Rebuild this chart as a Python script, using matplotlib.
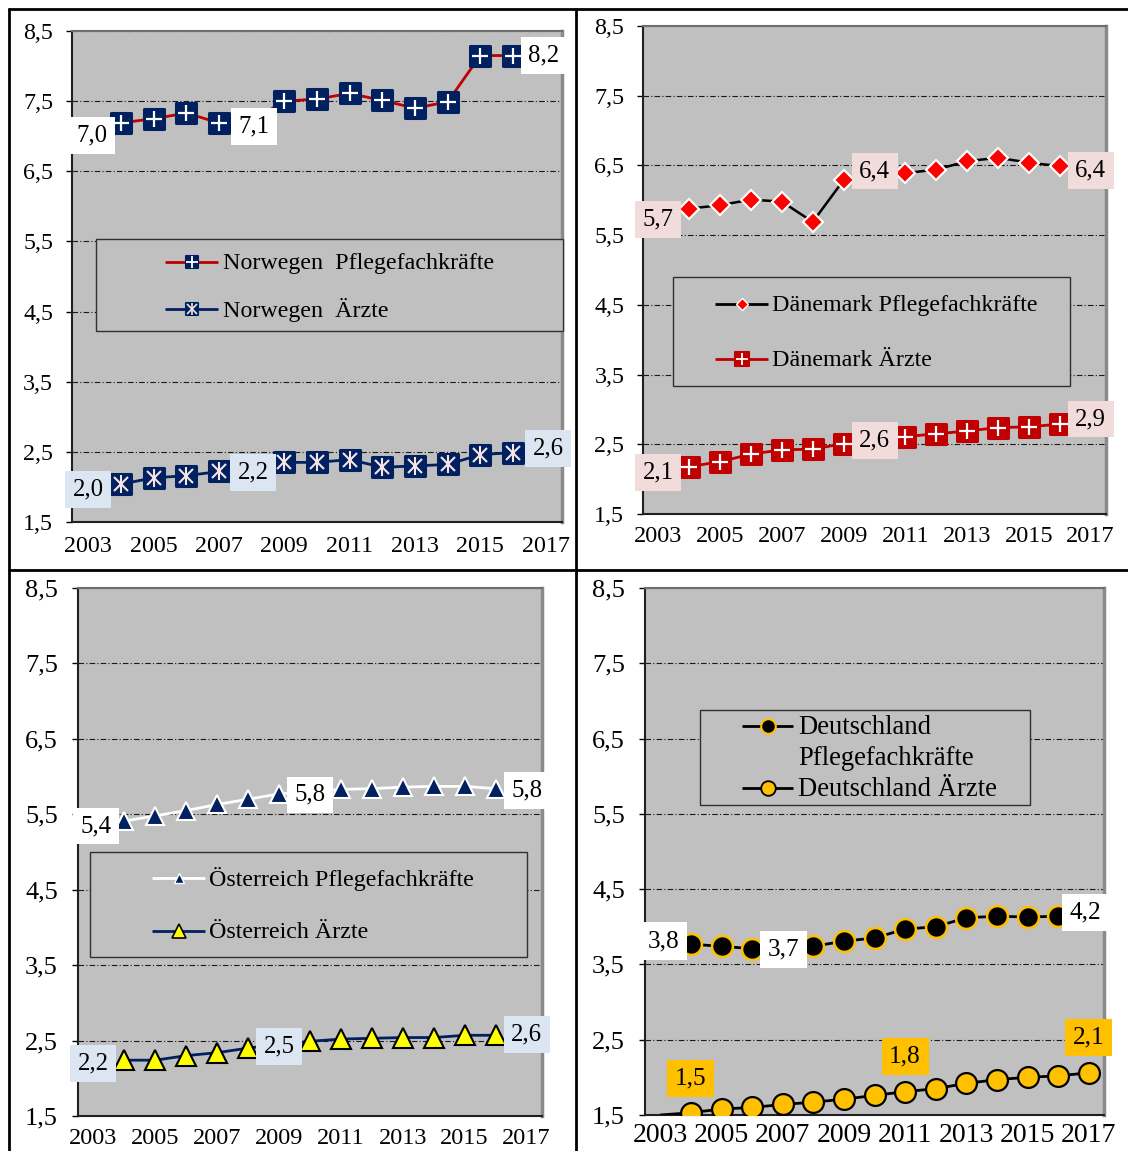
import matplotlib
matplotlib.use('Agg')
import matplotlib.pyplot as plt
from matplotlib.markers import MarkerStyle
from matplotlib.patches import Rectangle

plt.rcParams['font.family'] = ['Liberation Serif', 'DejaVu Serif']

# ---------------- data ----------------
years = list(range(2003, 2018))
tick_years = years[::2]
yticks = [1.5, 2.5, 3.5, 4.5, 5.5, 6.5, 7.5, 8.5]

series_years = list(range(2004, 2017))

no_pflege = [7.19, 7.25, 7.33, 7.19, 7.22, 7.50, 7.53, 7.61, 7.51, 7.40, 7.49, 8.15, 8.15]
no_aerzte = [2.04, 2.13, 2.16, 2.22, 2.30, 2.35, 2.35, 2.39, 2.28, 2.30, 2.32, 2.46, 2.49]
dk_pflege = [5.88, 5.93, 6.01, 5.98, 5.69, 6.29, 6.38, 6.39, 6.44, 6.56, 6.61, 6.54, 6.49]
dk_aerzte = [2.18, 2.25, 2.36, 2.42, 2.43, 2.51, 2.57, 2.61, 2.65, 2.69, 2.74, 2.75, 2.79]
at_pflege = [5.41, 5.48, 5.55, 5.63, 5.70, 5.77, 5.80, 5.83, 5.84, 5.86, 5.87, 5.87, 5.84]
at_aerzte = [2.24, 2.24, 2.30, 2.34, 2.40, 2.45, 2.49, 2.52, 2.53, 2.54, 2.54, 2.57, 2.57]
de_pflege = [3.77, 3.74, 3.71, 3.72, 3.74, 3.81, 3.85, 3.97, 4.00, 4.12, 4.14, 4.13, 4.14]
de_aerzte_years = list(range(2003, 2018))
de_aerzte = [1.50, 1.53, 1.58, 1.60, 1.64, 1.67, 1.71, 1.76, 1.81, 1.85, 1.92, 1.97, 2.00, 2.02, 2.06]

# data labels: (year, text)
no_pflege_lbl = [(2004, "7,0"), (2007, "7,1"), (2016, "8,2")]
no_aerzte_lbl = [(2004, "2,0"), (2007, "2,2"), (2016, "2,6")]
dk_pflege_lbl = [(2004, "5,7"), (2009, "6,4"), (2016, "6,4")]
dk_aerzte_lbl = [(2004, "2,1"), (2009, "2,6"), (2016, "2,9")]
at_pflege_lbl = [(2004, "5,4"), (2009, "5,8"), (2016, "5,8")]
at_aerzte_lbl = [(2004, "2,2"), (2008, "2,5"), (2016, "2,6")]
de_pflege_lbl = [(2004, "3,8"), (2006, "3,7"), (2016, "4,2")]
de_aerzte_lbl = [(2004, "1,5"), (2011, "1,8"), (2017, "2,1")]

leg_no = ["Norwegen  Pflegefachkräfte", "Norwegen  Ärzte"]
leg_dk = ["Dänemark Pflegefachkräfte", "Dänemark Ärzte"]
leg_at = ["Österreich Pflegefachkräfte", "Österreich Ärzte"]
leg_de = ["Deutschland\nPflegefachkräfte", "Deutschland Ärzte"]

# ---------------- styles ----------------
NAVY = '#002060'
RED = '#c00000'
BRIGHT_RED = '#ff0000'
ORANGE = '#ffc000'
YELLOW = '#ffff00'
GREY = '#c0c0c0'
LBLUE = '#dce6f2'
LPINK = '#f2dcdb'

W, H = 1128, 1151
fig = plt.figure(figsize=(W / 100, H / 100), dpi=100)


def xi(yrs):
    return [years.index(y) for y in yrs]


def add_panel(x0, y0, x1, y1, yfs, xfs, ypad=9, xpad=9):
    ax = fig.add_axes([x0 / W, 1 - y1 / H, (x1 - x0) / W, (y1 - y0) / H])
    ax.set_facecolor(GREY)
    ax.set_xlim(-0.5, 14.5)
    ax.set_ylim(1.5, 8.5)
    ax.set_yticks(yticks)
    ax.set_yticklabels([f"{v:.1f}".replace('.', ',') for v in yticks], fontsize=yfs)
    ax.set_xticks(xi(tick_years))
    ax.set_xticklabels([str(y) for y in tick_years], fontsize=xfs)
    ax.tick_params(axis='y', direction='out', length=4.5, width=1, pad=ypad)
    ax.tick_params(axis='x', length=0, pad=xpad)
    ax.yaxis.grid(True, linestyle=(0, (5, 2, 1, 2)), color='#1a1a1a', lw=0.8)
    ax.set_axisbelow(True)
    ax.spines['left'].set_color('#202020')
    ax.spines['left'].set_linewidth(1.5)
    ax.spines['bottom'].set_color('#202020')
    ax.spines['bottom'].set_linewidth(1.5)
    ax.spines['top'].set_color('#6e6e6e')
    ax.spines['top'].set_linewidth(1.5)
    ax.spines['right'].set_color('#8a8a8a')
    ax.spines['right'].set_linewidth(2.5)
    return ax


def draw_series(ax, yrs, vals, lc, lw, marker, ms, mfc, mec, mew, inner=(), skip_first=False):
    xs = xi(yrs)
    ax.plot(xs, vals, color=lc, lw=lw, zorder=3, solid_capstyle='butt')
    mx = xs[1:] if skip_first else xs
    mv = vals[1:] if skip_first else vals
    ax.plot(mx, mv, ls='none', marker=marker, ms=ms, mfc=mfc, mec=mec, mew=mew, zorder=4)
    for m, ims, icol, imew in inner:
        ax.plot(mx, mv, ls='none', marker=m, ms=ims, mec=icol, mew=imew, zorder=4.5)


def add_labels(ax, yrs, vals, lbls, offsets, fc, fs):
    for (yr, txt), (dx, dy) in zip(lbls, offsets):
        v = vals[yrs.index(yr)]
        ax.annotate(txt, (years.index(yr), v), xytext=(dx, -dy), textcoords='offset pixels',
                    ha='center', va='center', fontsize=fs, zorder=6, annotation_clip=False,
                    bbox=dict(boxstyle='square,pad=0.3', fc=fc, ec='none'))


sq_round = MarkerStyle('s', joinstyle='round')
LFS = 17.8  # data label font size

# ---- Norwegen ----
ax1 = add_panel(72, 31, 562, 522, 17.3, 17.3, xpad=10)
draw_series(ax1, series_years, no_pflege, RED, 2, sq_round, 14, NAVY, NAVY, 2.2,
            inner=[('+', 12, 'white', 1.6)])
draw_series(ax1, series_years, no_aerzte, NAVY, 2, sq_round, 14, NAVY, NAVY, 2.2,
            inner=[('x', 10, '#f7e4e4', 1.5), ('|', 13, '#f7e4e4', 1.5)])
add_labels(ax1, series_years, no_pflege, no_pflege_lbl, [(-29, 13), (35, 4), (31, 0)], 'white', LFS)
add_labels(ax1, series_years, no_aerzte, no_aerzte_lbl, [(-33, 5), (34, 1), (35, -4)], LBLUE, LFS)

# ---- Dänemark ----
ax2 = add_panel(643, 26, 1106, 514, 17.3, 17.5, xpad=9)
draw_series(ax2, series_years, dk_pflege, 'black', 1.8, 'D', 10.5, BRIGHT_RED, 'white', 1.5)
draw_series(ax2, series_years, dk_aerzte, RED, 2, sq_round, 14, RED, RED, 2.2,
            inner=[('+', 12, 'white', 1.6)])
add_labels(ax2, series_years, dk_pflege, dk_pflege_lbl, [(-31, 11), (31, -9), (31, 4)], LPINK, LFS)
add_labels(ax2, series_years, dk_aerzte, dk_aerzte_lbl, [(-31, 6), (31, -3), (31, -5)], LPINK, LFS)

# ---- Österreich ----
ax3 = add_panel(78, 588, 542, 1116, 19, 17.5, ypad=10, xpad=9)
draw_series(ax3, series_years, at_pflege, 'white', 2, '^', 13, NAVY, 'white', 1.5)
draw_series(ax3, series_years, at_aerzte, NAVY, 2, '^', 14, YELLOW, 'black', 1.5)
add_labels(ax3, series_years, at_pflege, at_pflege_lbl, [(-28, 5), (31, 1), (31, 2)], 'white', LFS)
add_labels(ax3, series_years, at_aerzte, at_aerzte_lbl, [(-31, 3), (31, -2), (31, -1)], LBLUE, LFS)

# ---- Deutschland ----
ax4 = add_panel(645, 588, 1104, 1115, 19, 20, ypad=10, xpad=6)
draw_series(ax4, series_years, de_pflege, 'black', 2, 'o', 15, 'black', ORANGE, 1.8)
draw_series(ax4, de_aerzte_years, de_aerzte, 'black', 2, 'o', 15, ORANGE, 'black', 1.6, skip_first=True)
add_labels(ax4, series_years, de_pflege, de_pflege_lbl, [(-27, -3), (31, 1), (27, -4)], 'white', 18.3)
add_labels(ax4, de_aerzte_years, de_aerzte, de_aerzte_lbl, [(0, -34), (0, -35), (0, -35)], ORANGE, 18.3)

# ---------------- overlay: legends and table borders ----------------
ov = fig.add_axes([0, 0, 1, 1], zorder=10)
ov.set_xlim(0, W)
ov.set_ylim(H, 0)
ov.axis('off')
ov.patch.set_visible(False)


def legend_box(x0, y0, x1, y1):
    ov.add_patch(Rectangle((x0, y0), x1 - x0, y1 - y0, fc=GREY, ec='#303030', lw=1))


def legend_entry(xa, xb, y, lc, marker, ms, mfc, mec, mew, inner=()):
    ov.plot([xa, xb], [y, y], color=lc, lw=2, solid_capstyle='butt')
    xm = (xa + xb) / 2
    ov.plot([xm], [y], marker=marker, ms=ms, mfc=mfc, mec=mec, mew=mew, ls='none')
    for m, ims, icol, imew in inner:
        ov.plot([xm], [y], marker=m, ms=ims, mec=icol, mew=imew, ls='none')


# Norwegen legend
legend_box(96, 239, 563, 331)
legend_entry(165, 218, 262, RED, sq_round, 8.5, NAVY, NAVY, 1.5, inner=[('+', 8, 'white', 1.3)])
legend_entry(165, 218, 309, NAVY, sq_round, 8.5, NAVY, NAVY, 1.5,
             inner=[('x', 6.5, '#f7e4e4', 1.2), ('|', 8.5, '#f7e4e4', 1.2)])
ov.text(223, 263, leg_no[0], va='center', ha='left', fontsize=17.3)
ov.text(223, 310, leg_no[1], va='center', ha='left', fontsize=17.3)

# Dänemark legend
legend_box(673, 277, 1070, 386)
legend_entry(715, 768, 304, 'black', 'D', 6, BRIGHT_RED, 'white', 1.0)
legend_entry(715, 768, 359, RED, sq_round, 10, RED, RED, 1.5, inner=[('+', 9, 'white', 1.3)])
ov.text(772, 305, leg_dk[0], va='center', ha='left', fontsize=17.3)
ov.text(772, 360, leg_dk[1], va='center', ha='left', fontsize=17.3)

# Österreich legend
legend_box(90, 852, 527, 957)
legend_entry(152, 205, 878, 'white', '^', 7, NAVY, 'white', 1.0)
legend_entry(152, 205, 931, NAVY, '^', 10, YELLOW, 'black', 1.2)
ov.text(209, 879, leg_at[0], va='center', ha='left', fontsize=17.3)
ov.text(209, 932, leg_at[1], va='center', ha='left', fontsize=17.3)

# Deutschland legend
legend_box(700, 710, 1030, 805)
legend_entry(742, 793, 726, 'black', 'o', 10.5, 'black', ORANGE, 1.5)
legend_entry(742, 793, 788, 'black', 'o', 10.5, ORANGE, 'black', 1.3)
de_lines = leg_de[0].split('\n')
ov.text(798, 727, de_lines[0], va='center', ha='left', fontsize=19.2)
ov.text(798, 758, de_lines[1], va='center', ha='left', fontsize=19.2)
ov.text(798, 789, leg_de[1], va='center', ha='left', fontsize=19.2)

# table borders
bw = 2.0
ov.plot([8, W], [8.5, 8.5], color='black', lw=bw, solid_capstyle='butt')
ov.plot([8, W], [569.5, 569.5], color='black', lw=bw, solid_capstyle='butt')
ov.plot([8.5, 8.5], [8, H], color='black', lw=bw, solid_capstyle='butt')
ov.plot([576, 576], [8, H], color='black', lw=bw, solid_capstyle='butt')

fig.savefig('out.png', dpi=100, facecolor='white')
